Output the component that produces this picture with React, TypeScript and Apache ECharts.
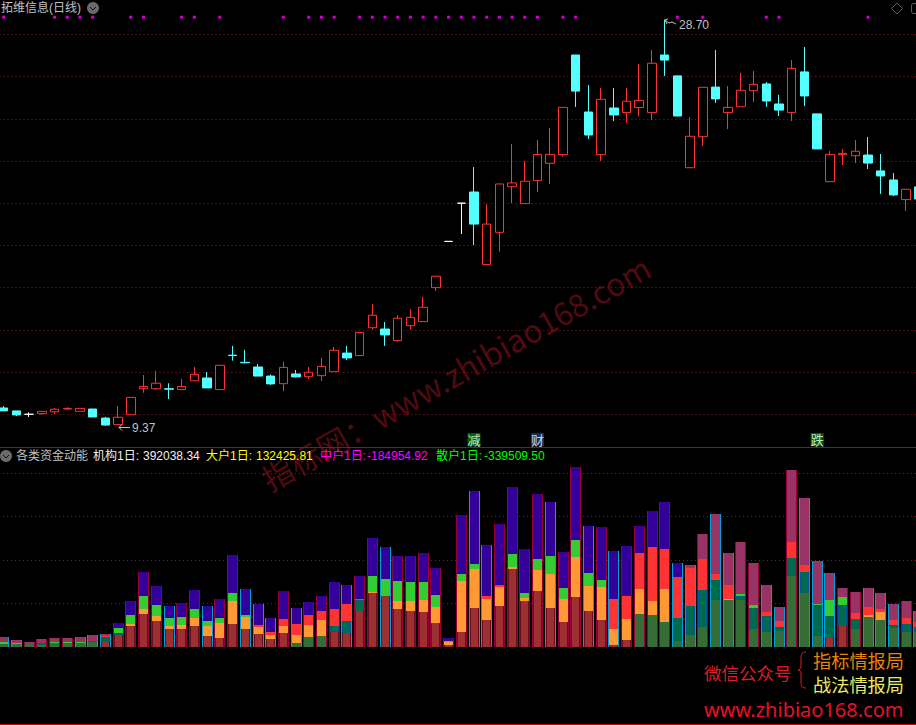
import React, { useEffect, useRef } from "react";
import * as echarts from "echarts";

const stockName = "拓维信息(日线)";
const panelName = "各类资金动能";

// [open, close, low, high]
const candles: number[][] = [
  [10.30,10.16,10.16,10.39],[10.16,9.97,9.92,10.16],[10.00,10.00,9.87,10.09],[10.03,10.14,9.98,10.14],
  [10.12,10.24,10.01,10.30],[10.25,10.28,10.20,10.33],[10.14,10.28,10.14,10.28],[10.25,9.87,9.87,10.25],
  [9.82,9.49,9.45,9.87],[9.51,9.86,9.51,10.39],[9.98,10.80,9.98,10.80],[11.21,11.32,11.02,11.86],
  [11.21,11.47,11.15,12.05],[11.21,11.19,10.72,11.47],[11.17,11.32,11.17,11.67],[11.59,11.89,11.59,12.24],
  [11.72,11.25,11.25,12.00],[11.17,12.32,11.17,12.32],[12.80,12.78,12.54,13.24],[12.46,12.44,12.40,13.05],
  [12.24,11.81,11.81,12.38],[11.81,11.44,11.39,11.89],[11.45,12.22,11.10,12.48],[11.91,11.77,11.74,12.10],
  [11.78,11.99,11.67,12.24],[11.83,12.27,11.58,12.67],[12.02,13.03,12.02,13.19],[12.90,12.67,12.57,13.24],
  [12.78,13.88,12.78,13.88],[14.10,14.69,14.02,15.22],[14.04,13.76,13.24,14.37],[13.49,14.55,13.44,14.70],
  [14.20,14.59,14.02,14.99],[14.39,15.07,14.39,15.56],[16.00,16.54,15.84,16.54],[18.19,18.19,18.19,18.19],
  [20.00,20.00,18.54,20.00],[20.53,19.01,18.02,21.71],[17.09,19.01,17.09,19.96],[18.62,20.91,17.70,20.91],
  [20.78,20.96,20.01,22.80],[19.98,21.04,19.98,22.00],[21.07,22.31,20.53,22.99],[21.89,22.31,20.91,23.56],
  [22.30,24.54,22.20,24.54],[27.02,25.31,24.56,27.02],[24.32,23.23,23.04,25.60],[22.30,24.92,22.00,25.46],
  [24.51,24.18,23.89,25.46],[24.29,24.83,23.80,25.46],[24.53,24.87,24.13,26.59],[24.29,26.63,23.94,27.26],
  [27.02,26.78,26.03,28.70],[26.03,24.13,24.13,26.03],[21.68,23.17,21.68,24.08],[23.15,25.49,22.71,25.49],
  [25.50,24.94,24.75,27.26],[24.29,24.54,23.51,25.55],[24.57,25.35,24.57,26.17],[25.33,25.63,24.79,26.26],
  [25.65,24.84,24.56,25.74],[24.70,24.41,24.13,25.13],[24.29,26.39,23.89,26.78],[26.22,25.08,24.60,27.40],
  [24.23,22.57,22.57,24.23],[21.02,22.31,21.02,22.47],[22.30,22.36,21.81,22.57],[22.25,22.46,21.90,22.99],
  [22.28,21.90,21.62,23.14],[21.53,21.29,20.44,22.33],[21.10,20.39,20.34,21.43],[20.17,20.66,19.63,20.66],
  [20.77,20.20,20.20,20.77],
];
const whiteCandles = [2, 35, 36];
const categories = candles.map((_, i) => String(i));

const signalDays = [0,4,5,6,7,10,11,14,15,17,22,24,25,26,28,29,30,31,32,33,34,35,36,37,38,39,40,41,42,44,45,53,55,60,61,68];
const signalPrice = 28.81;
const tags = [
  { day: 37, text: "减", color: "#008000" },
  { day: 42, text: "财", color: "#0f3f70" },
  { day: 64, text: "跌", color: "#008000" },
];
const tagPrice = 8.8;

// Signed amounts, in axis units: the sign picks the colour of the segment.
const institution = [-8,-8,-7,-6,-11,-12,-12,-15,15,35,62,98,77,53,53,62,32,26,68,53,38,23,41,-11,-29,-32,44,41,107,161,152,113,107,104,71,5,44,116,80,122,233,137,167,116,74,149,107,80,5,20,-98,-95,-74,-17,-35,-59,-140,-140,-140,-53,-44,-47,-212,-161,-32,29,62,-53,-89,-80,-56,-44,-45];
const largeHolder = [0,0,0,-5,0,0,0,-3,-15,-6,6,15,15,9,12,24,30,45,69,36,21,12,21,24,36,48,-18,-36,-33,3,0,24,30,36,48,9,153,117,63,57,6,9,63,102,69,120,75,99,48,63,75,42,99,-69,-87,-111,-60,3,-12,-63,-48,-12,-54,-63,-93,-63,-63,-30,6,24,-9,-24,-15];
const mediumHolder = [6,3,0,0,2,2,2,0,-3,15,27,39,33,24,24,27,15,15,24,6,-6,-9,-21,-33,-30,-27,-51,-51,-3,48,51,60,57,54,36,3,21,15,-9,-6,39,15,33,54,33,51,39,21,-90,-69,-108,-162,-120,-123,-114,-93,-18,-42,6,9,-12,-18,-48,-21,3,48,24,-18,-24,-9,-15,-18,-15];
const retail = [-15,-9,-7,-12,-13,-12,-15,-18,-5,15,42,72,57,36,42,57,45,57,114,78,63,42,84,48,39,45,81,57,69,114,96,75,78,87,81,9,177,219,153,183,201,132,195,162,108,219,141,159,144,150,81,108,141,42,-9,-75,-180,-96,-156,-126,-81,-42,-216,-201,-129,-81,-27,-63,-57,-48,-48,-51,-32];
const outlineUp = [0,0,1,1,1,1,0,0,0,1,1,1,1,0,1,1,0,1,1,0,0,0,1,0,1,1,1,0,1,1,0,1,1,1,1,1,1,0,0,1,1,1,1,0,1,1,0,1,0,1,1,1,1,0,0,1,0,0,1,1,0,0,1,0,0,0,1,1,0,0,0,1,0];

const legendItems = [
  { text: "机构1日:", x: 93, color: "#f0f0f0" },
  { text: "392038.34", x: 143, color: "#f0f0f0" },
  { text: "大户1日:", x: 206, color: "#ffff00" },
  { text: "132425.81", x: 256, color: "#ffff00" },
  { text: "中户1日:", x: 320, color: "#ff00ff" },
  { text: "-184954.92", x: 367, color: "#ff00ff" },
  { text: "散户1日:", x: 436, color: "#00ff00" },
  { text: "-339509.50", x: 484, color: "#00ff00" },
];
const highLabel = "28.70";
const lowLabel = "9.37";
const watermark = "指标网：www.zhibiao168.com";
const promoTitle = "微信公众号";
const promoLines = ["指标情报局", "战法情报局"];
const promoUrl = "www.zhibiao168.com";

const UP = "#ff3232";
const DOWN = "#54ffff";
const FONT = '"Liberation Sans","Noto Sans CJK SC",sans-serif';
const CJK = '"Noto Sans CJK SC",sans-serif';

// Colours of each layer, [amount >= 0, amount < 0]; "side" is the edge of the column, "core" its middle.
const layerSide = [["#6e0a24", "#366c36"], ["#ff9933", "#00559a"], ["#33cc33", "#ff3333"], ["#330099", "#993366"]];
const layerCore = [["#9c3030", "#366c36"], ["#ff9933", "#006a4e"], ["#33cc33", "#ff3333"], ["#330099", "#993366"]];
const frameColors = ["#00a0d8", "#990038"];

echarts.graphic.registerShape(
  "promoBrace",
  echarts.graphic.extendPath("M8 0C3 0 3 3 3 8L3 14C3 17 1 18 0 18C1 18 3 19 3 22L3 28C3 33 3 36 8 36", {})
);

function renderColumn(_: any, api: any) {
  const i = api.value(0);
  const amounts = [api.value(1), api.value(2), api.value(3), api.value(4)];
  const centre = api.coord([i, 0])[0];
  const left = Math.ceil(centre - 5.5);
  const yAt = (v: number) => Math.round(api.coord([i, v])[1]);
  const children: any[] = [];
  const rect = (x: number, y0: number, width: number, y1: number, fill: string) => ({
    type: "rect", shape: { x, y: y1, width, height: y0 - y1 }, style: { fill },
  });
  let sum = 0;
  amounts.forEach((a: number) => { sum += Math.abs(a); });
  children.push(rect(left, yAt(0), 11, yAt(sum), frameColors[api.value(5)]));
  let cum = 0;
  amounts.forEach((a: number, k: number) => {
    const next = cum + Math.abs(a);
    if (a !== 0) {
      const s = a >= 0 ? 0 : 1;
      children.push(rect(left + 1, yAt(cum), 9, yAt(next), layerSide[k][s]));
      if (layerCore[k][s] !== layerSide[k][s]) {
        children.push(rect(left + 2, yAt(cum), 7, yAt(next), layerCore[k][s]));
      }
    }
    cum = next;
  });
  return { type: "group", children };
}

function buildOption() {
  const catAxis = (gridIndex: number) => ({
    type: "category", gridIndex, data: categories, show: false,
  });
  const text = (t: string, x: number, y: number, fill: string, size = 12, family = FONT, extra = {}) => ({
    type: "text", x, y, z: 10,
    style: { text: t, fill, font: `${size}px ${family}`, textVerticalAlign: "middle", ...extra },
  });
  return {
    animation: false,
    backgroundColor: "#000000",
    grid: [
      { left: -2.65, top: -7.9, width: 927.83, height: 464.4, outerBoundsMode: "none" },
      { left: -3.05, top: 430, width: 927.83, height: 216.67, outerBoundsMode: "none" },
    ],
    xAxis: [catAxis(0), catAxis(1)],
    yAxis: [
      {
        type: "value", gridIndex: 0, min: 8, max: 30, interval: 2,
        axisLine: { show: false }, axisTick: { show: false }, axisLabel: { show: false },
        splitLine: { show: true, showMinLine: false, showMaxLine: false,
          lineStyle: { color: "#a01020", width: 1, type: [1, 3], dashOffset: 2 } },
      },
      {
        type: "value", gridIndex: 1, min: 0, max: 650, interval: 130,
        axisLine: { show: false }, axisTick: { show: false }, axisLabel: { show: false },
        splitLine: { show: true, showMinLine: false, showMaxLine: false,
          lineStyle: { color: "#a01020", width: 1, type: [1, 3], dashOffset: 2 } },
      },
    ],
    series: [
      {
        type: "candlestick", xAxisIndex: 0, yAxisIndex: 0, barWidth: 9, z: 3,
        itemStyle: { color: "#000000", color0: DOWN, borderColor: UP, borderColor0: DOWN, borderWidth: 1 },
        data: candles.map((c, i) => {
          const flat = c[0] === c[1];
          const white = whiteCandles.includes(i);
          return white || flat
            ? { value: c, itemStyle: { color: "#fff", color0: "#fff", borderColor: "#fff", borderColor0: "#fff" } }
            : c;
        }),
      },
      {
        type: "scatter", xAxisIndex: 0, yAxisIndex: 0, symbol: "rect", symbolSize: 3, z: 4,
        itemStyle: { color: "#ff00ff" },
        data: signalDays.map((d) => [d, signalPrice]),
      },
      {
        type: "scatter", xAxisIndex: 0, yAxisIndex: 0, symbol: "rect", symbolSize: 13, z: 4,
        data: tags.map((t) => ({
          value: [t.day, tagPrice],
          itemStyle: { color: t.color },
          label: { show: true, position: "inside", formatter: t.text, color: "#fff", fontSize: 13, fontFamily: CJK },
        })),
      },
      {
        type: "custom", xAxisIndex: 1, yAxisIndex: 1, z: 3, silent: true, clip: false,
        renderItem: renderColumn,
        encode: { x: 0, y: [1, 2, 3, 4] },
        data: institution.map((v, i) => [i, v, largeHolder[i], mediumHolder[i], retail[i], outlineUp[i]]),
      },
    ],
    graphic: [
      {
        type: "text", x: 455, y: 372, rotation: (29.5 * Math.PI) / 180, z: 0, silent: true,
        style: { text: watermark, fill: "#500a10", font: `31.5px ${CJK}`, textAlign: "center", textVerticalAlign: "middle" },
      },
      { type: "line", z: 9, shape: { x1: 0, y1: 447.5, x2: 916, y2: 447.5 }, style: { stroke: "#c00000", lineWidth: 1 } },
      { type: "line", z: 9, shape: { x1: 0, y1: 724.5, x2: 916, y2: 724.5 }, style: { stroke: "#c00000", lineWidth: 1 } },
      text(stockName, 1, 8, "#c0c0c0", 12),
      { type: "circle", z: 10, shape: { cx: 93, cy: 8, r: 6 }, style: { fill: "#6a6a6a" } },
      { type: "polyline", z: 11, shape: { points: [[90, 7], [93, 10], [96, 7]] }, style: { stroke: "#101010", fill: null, lineWidth: 1 } },
      { type: "polygon", z: 10, shape: { points: [[897, 3], [902.5, 8.5], [897, 14], [891.5, 8.5]] }, style: { stroke: "#606060", fill: null, lineWidth: 1 } },
      { type: "rect", z: 10, shape: { x: 911.5, y: 3.5, width: 10, height: 10, r: 2 }, style: { stroke: "#606060", fill: null, lineWidth: 1 } },
      { type: "circle", z: 10, shape: { cx: 6, cy: 456, r: 6 }, style: { fill: "#6a6a6a" } },
      { type: "polyline", z: 11, shape: { points: [[3, 455], [6, 458], [9, 455]] }, style: { stroke: "#101010", fill: null, lineWidth: 1 } },
      text(panelName, 16, 456, "#c0c0c0", 12),
      ...legendItems.map((l) => text(l.text, l.x, 456, l.color, 12)),
      text(highLabel, 679, 25, "#c0c0c0", 12),
      { type: "polyline", z: 10, shape: { points: [[676, 24], [672, 22], [669, 23], [665, 20]] }, style: { stroke: "#c0c0c0", fill: null, lineWidth: 1 } },
      { type: "polyline", z: 10, shape: { points: [[668, 19], [665, 20], [667, 24]] }, style: { stroke: "#c0c0c0", fill: null, lineWidth: 1 } },
      text(lowLabel, 132, 428, "#c0c0c0", 12),
      { type: "polyline", z: 10, shape: { points: [[130, 427.5], [119, 427.5]] }, style: { stroke: "#c0c0c0", fill: null, lineWidth: 1 } },
      { type: "polyline", z: 10, shape: { points: [[122, 424.5], [119, 427.5], [122, 430.5]] }, style: { stroke: "#c0c0c0", fill: null, lineWidth: 1 } },
      text(promoTitle, 704, 672, "#dd1c28", 17.5, CJK),
      { type: "promoBrace", z: 10, x: 798, y: 652, style: { stroke: "#dd1c28", fill: null, lineWidth: 1 } },
      text(promoLines[0], 813, 660, "#e88408", 18.2, CJK),
      text(promoLines[1], 813, 684, "#eaea60", 18.2, CJK),
      text(promoUrl, 704, 709, "#e8102a", 20, '"Noto Sans",sans-serif'),
    ],
  };
}

export default function App() {
  const ref = useRef<HTMLDivElement>(null);
  useEffect(() => {
    document.body.style.margin = "0";
    document.body.style.background = "#000";
    const chart = echarts.init(ref.current!, null, { renderer: "svg", width: 916, height: 725 });
    chart.setOption(buildOption() as any);
    return () => chart.dispose();
  }, []);
  return <div ref={ref} style={{ width: 916, height: 725, overflow: "hidden" }} />;
}
